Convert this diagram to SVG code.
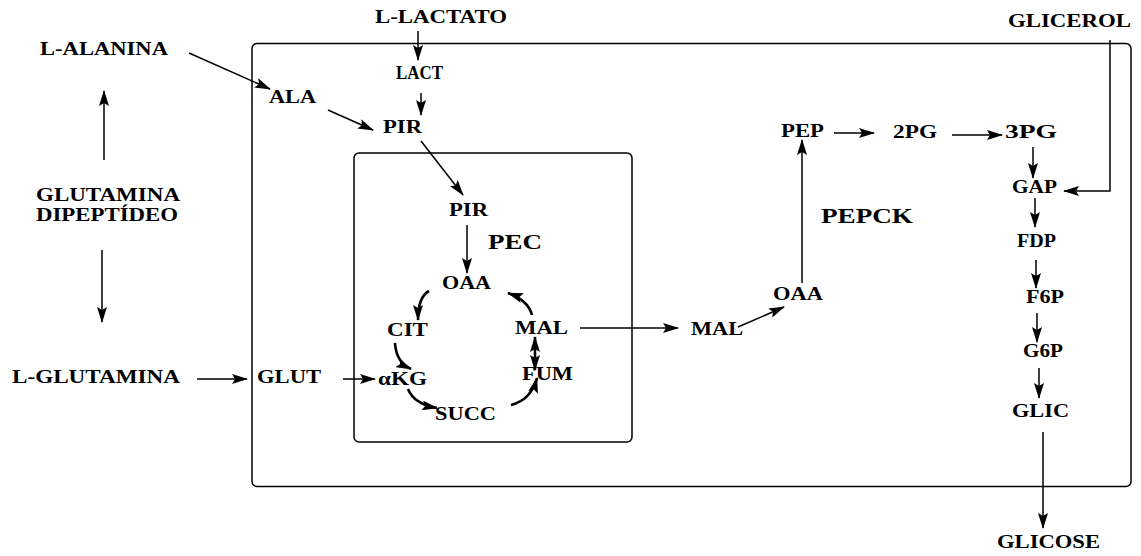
<svg xmlns="http://www.w3.org/2000/svg" width="1141" height="556" viewBox="0 0 1141 556">
<style>
text{font-family:"Liberation Serif","Times New Roman",serif;font-weight:bold;font-size:18px;fill:#000}
text.big{font-size:21px}
.box{fill:none;stroke:#000;stroke-width:1.5}
.c{fill:none;stroke:#000;stroke-width:1.5;marker-end:url(#ah)}
.cv{fill:none;stroke:#000;stroke-width:2.6;marker-end:url(#ah)}
</style>
<defs>
<marker id="ah" viewBox="0 0 16 10" markerWidth="16" markerHeight="10" refX="15" refY="5" orient="auto-start-reverse" markerUnits="userSpaceOnUse">
<path d="M0,0 L16,5 L0,10 L3,5 z" fill="#000"/>
</marker>
</defs>
<g id="outer-cell"><rect class="box" x="252" y="43.5" width="879" height="443" rx="5"/></g>
<g id="mitochondria"><rect class="box" x="354" y="153" width="278" height="289" rx="5"/></g>
<g id="connectors">
<line class="c" x1="189" y1="53" x2="270" y2="89"/>
<line class="c" x1="328" y1="110" x2="373" y2="130"/>
<line class="c" x1="418" y1="31" x2="418" y2="60"/>
<line class="c" x1="421" y1="93" x2="421" y2="115"/>
<line class="c" x1="421" y1="141" x2="463" y2="195"/>
<line class="c" x1="467" y1="225" x2="467" y2="273"/>
<path class="cv" d="M429,291 Q418,297 418,320"/>
<path class="cv" d="M395,343 Q396,362 411,369"/>
<path class="cv" d="M408,389 Q414,404 437,408"/>
<path class="cv" d="M511,405 Q531,400 537,378"/>
<path class="cv" d="M532,315 Q528,300 508,293"/>
<line class="cv" x1="535" y1="337" x2="535" y2="370" marker-start="url(#ah)"/>
<line class="c" x1="580" y1="328" x2="678" y2="328"/>
<line class="c" x1="738" y1="327" x2="784" y2="307"/>
<line class="c" x1="802" y1="283" x2="802" y2="140"/>
<line class="c" x1="834" y1="133" x2="874" y2="133"/>
<line class="c" x1="952" y1="135" x2="1002" y2="135"/>
<line class="c" x1="1033" y1="147" x2="1033" y2="178"/>
<polyline class="c" points="1110,40 1110,191 1064,191"/>
<line class="c" x1="1035" y1="198" x2="1035" y2="227"/>
<line class="c" x1="1036" y1="260" x2="1036" y2="288"/>
<line class="c" x1="1037" y1="313" x2="1037" y2="342"/>
<line class="c" x1="1039" y1="368" x2="1039" y2="398"/>
<line class="c" x1="1043" y1="432" x2="1043" y2="528"/>
<line class="c" x1="104" y1="160" x2="104" y2="91"/>
<line class="c" x1="102" y1="250" x2="102" y2="322"/>
<line class="c" x1="197" y1="379" x2="247" y2="379"/>
<line class="c" x1="343" y1="379" x2="375" y2="379"/>
</g>
<g id="n-lalanina"><text transform="translate(40,55) scale(1.25,1)" textLength="102.4" lengthAdjust="spacingAndGlyphs">L-ALANINA</text></g>
<g id="n-llactato"><text transform="translate(375,23) scale(1.25,1)" textLength="105.6" lengthAdjust="spacingAndGlyphs">L-LACTATO</text></g>
<g id="n-glicerol"><text transform="translate(1008,27) scale(1.25,1)" textLength="98.4" lengthAdjust="spacingAndGlyphs">GLICEROL</text></g>
<g id="n-ala"><text transform="translate(269,103) scale(1.25,1)" textLength="37.6" lengthAdjust="spacingAndGlyphs">ALA</text></g>
<g id="n-lact"><text transform="translate(396,79)" textLength="47" lengthAdjust="spacingAndGlyphs">LACT</text></g>
<g id="n-pir1"><text transform="translate(383,133) scale(1.25,1)" textLength="31.2" lengthAdjust="spacingAndGlyphs">PIR</text></g>
<g id="n-pir2"><text transform="translate(449,216) scale(1.25,1)" textLength="31.2" lengthAdjust="spacingAndGlyphs">PIR</text></g>
<g id="n-pec"><text class="big" transform="translate(488,249) scale(1.25,1)" textLength="43.2" lengthAdjust="spacingAndGlyphs">PEC</text></g>
<g id="n-oaa1"><text transform="translate(442,289) scale(1.25,1)" textLength="39.2" lengthAdjust="spacingAndGlyphs">OAA</text></g>
<g id="n-cit"><text transform="translate(387,336) scale(1.25,1)" textLength="32.8" lengthAdjust="spacingAndGlyphs">CIT</text></g>
<g id="n-mal1"><text transform="translate(515,334) scale(1.25,1)" textLength="42.4" lengthAdjust="spacingAndGlyphs">MAL</text></g>
<g id="n-akg"><text transform="translate(378,385) scale(1.25,1)" textLength="39.2" lengthAdjust="spacingAndGlyphs">αKG</text></g>
<g id="n-fum"><text transform="translate(522,380) scale(1.25,1)" textLength="40.8" lengthAdjust="spacingAndGlyphs">FUM</text></g>
<g id="n-succ"><text transform="translate(435,420) scale(1.25,1)" textLength="48.8" lengthAdjust="spacingAndGlyphs">SUCC</text></g>
<g id="n-mal2"><text transform="translate(691,335) scale(1.25,1)" textLength="41.6" lengthAdjust="spacingAndGlyphs">MAL</text></g>
<g id="n-oaa2"><text transform="translate(773,300) scale(1.25,1)" textLength="40" lengthAdjust="spacingAndGlyphs">OAA</text></g>
<g id="n-pep"><text transform="translate(781,137) scale(1.25,1)" textLength="34.4" lengthAdjust="spacingAndGlyphs">PEP</text></g>
<g id="n-pepck"><text class="big" transform="translate(821,223) scale(1.25,1)" textLength="73.6" lengthAdjust="spacingAndGlyphs">PEPCK</text></g>
<g id="n-2pg"><text transform="translate(893,138) scale(1.25,1)" textLength="35.2" lengthAdjust="spacingAndGlyphs">2PG</text></g>
<g id="n-3pg"><text transform="translate(1005,138) scale(1.25,1)" textLength="41.6" lengthAdjust="spacingAndGlyphs">3PG</text></g>
<g id="n-gap"><text transform="translate(1012,193) scale(1.25,1)" textLength="36" lengthAdjust="spacingAndGlyphs">GAP</text></g>
<g id="n-fdp"><text transform="translate(1017,247) scale(1.25,1)" textLength="31.2" lengthAdjust="spacingAndGlyphs">FDP</text></g>
<g id="n-f6p"><text transform="translate(1026,303) scale(1.25,1)" textLength="30.4" lengthAdjust="spacingAndGlyphs">F6P</text></g>
<g id="n-g6p"><text transform="translate(1023,357) scale(1.25,1)" textLength="32" lengthAdjust="spacingAndGlyphs">G6P</text></g>
<g id="n-glic"><text transform="translate(1012,417) scale(1.25,1)" textLength="45.6" lengthAdjust="spacingAndGlyphs">GLIC</text></g>
<g id="n-glicose"><text transform="translate(997,548) scale(1.25,1)" textLength="82.4" lengthAdjust="spacingAndGlyphs">GLICOSE</text></g>
<g id="n-glutamina-dip"><text transform="translate(36,201) scale(1.25,1)" textLength="115.2" lengthAdjust="spacingAndGlyphs">GLUTAMINA</text><text transform="translate(36,221) scale(1.25,1)" textLength="113.6" lengthAdjust="spacingAndGlyphs">DIPEPTÍDEO</text></g>
<g id="n-lglutamina"><text transform="translate(12,383) scale(1.25,1)" textLength="134.4" lengthAdjust="spacingAndGlyphs">L-GLUTAMINA</text></g>
<g id="n-glut"><text transform="translate(257,383) scale(1.25,1)" textLength="51.2" lengthAdjust="spacingAndGlyphs">GLUT</text></g>
</svg>
